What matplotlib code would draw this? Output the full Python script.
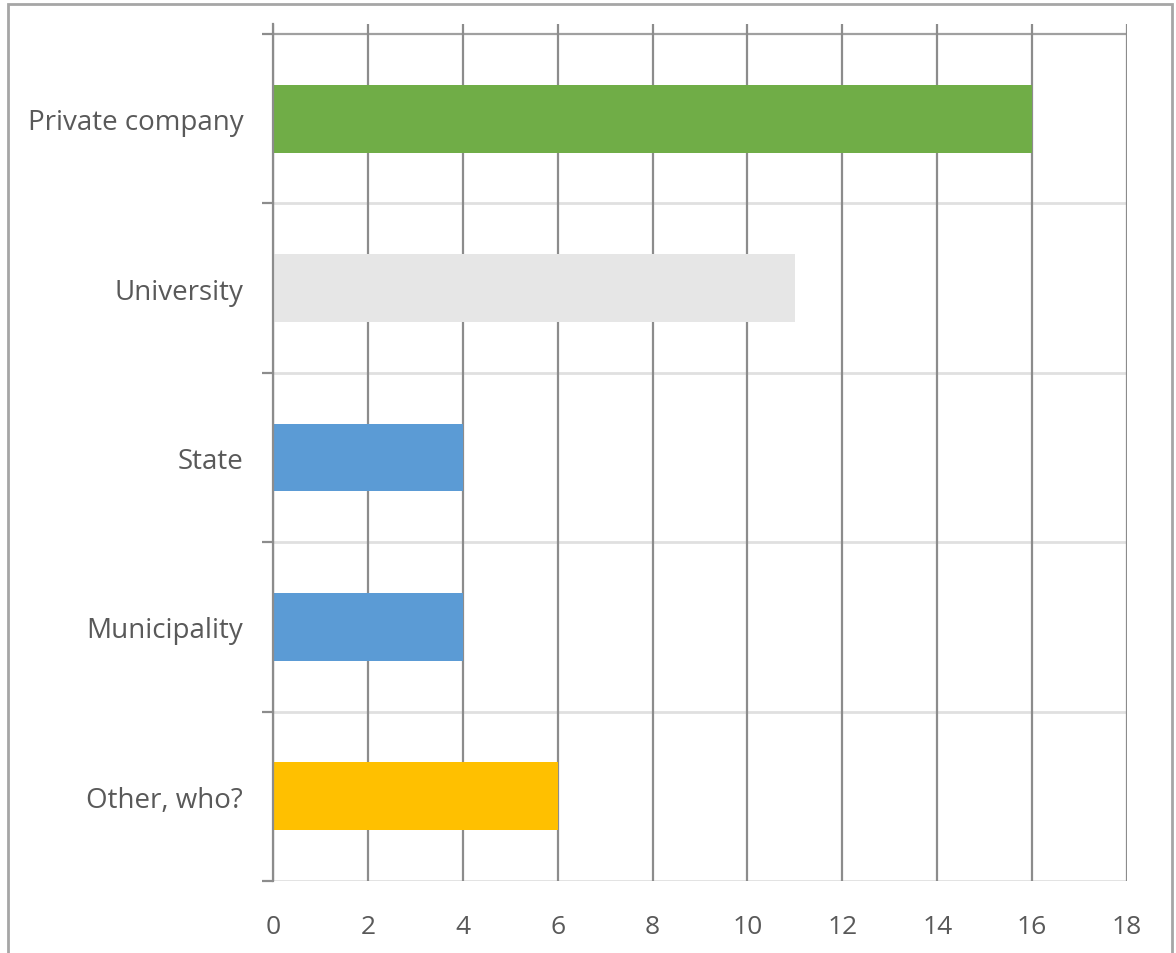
import matplotlib
matplotlib.use("Agg")
import matplotlib.pyplot as plt
from matplotlib.patches import Rectangle

categories = ["Other, who?", "Municipality", "State", "University", "Private company"]
values = [6, 4, 4, 11, 16]
colors = ["#ffc000", "#5b9bd5", "#5b9bd5", "#e6e6e6", "#70ad47"]
xticks = [0, 2, 4, 6, 8, 10, 12, 14, 16, 18]

plt.rcParams['font.family'] = ['Open Sans', 'DejaVu Sans']

fig = plt.figure(figsize=(11.76, 9.54), dpi=100)
# outer chart frame
fig.patches.append(Rectangle((8/1176, -0.05), (1172-8)/1176, (954-5)/954 + 0.05,
                             transform=fig.transFigure, fill=False,
                             edgecolor="#a6a6a6", linewidth=2))

ax = fig.add_axes([273/1176, 72/954, (1127-273)/1176, (882-25)/954])
ypos = list(range(len(categories)))
ax.barh(ypos, values, height=0.4, color=colors, zorder=3)

ax.set_xlim(0, 18)
ax.set_ylim(-0.5, 4.5 + 10/169.4)

# vertical gridlines
for x in xticks:
    ax.axvline(x, color="#8c8c8c", linewidth=1.6, zorder=2)
# horizontal band boundaries
for b in [-0.5, 0.5, 1.5, 2.5, 3.5]:
    ax.axhline(b, color="#e0e0e0", linewidth=2, zorder=1)
ax.axhline(4.5, color="#a0a0a0", linewidth=1.6, zorder=1)

for s in ["top", "right", "bottom"]:
    ax.spines[s].set_visible(False)
ax.spines["left"].set_color("#8c8c8c")
ax.spines["left"].set_linewidth(1.6)
ax.spines["left"].set_zorder(4)

ax.set_xticks(xticks)
ax.set_xticklabels([str(t) for t in xticks])
ax.tick_params(axis="x", length=0, pad=24, labelsize=19, labelcolor="#595959")

ax.set_yticks(ypos)
ax.set_yticklabels(categories)
ax.tick_params(axis="y", which="major", length=0, pad=21.5, labelsize=20, labelcolor="#595959")
ax.set_yticks([-0.5, 0.5, 1.5, 2.5, 3.5, 4.5], minor=True)
ax.tick_params(axis="y", which="minor", length=8, width=1.6, color="#8c8c8c")

fig.savefig("out.png", dpi=100)
